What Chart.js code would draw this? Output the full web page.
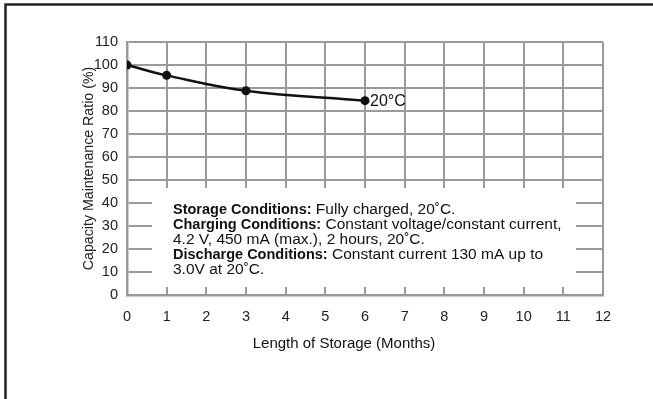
<!DOCTYPE html>
<html>
<head>
<meta charset="utf-8">
<script src="https://cdn.jsdelivr.net/npm/chart.js@4.4.1/dist/chart.umd.min.js"></script>
<style>
  html, body { margin: 0; padding: 0; background: #fff; }
  canvas { display: block; }
</style>
</head>
<body>
<canvas id="storageChart" width="653" height="399"></canvas>
<script>
// storage data
const months = [0, 1, 3, 6];
const capacity = [100, 95.5, 88.8, 84.5];
const seriesLabel = '20°C';

const xTicks = [0, 1, 2, 3, 4, 5, 6, 7, 8, 9, 10, 11, 12];
const yTicks = [0, 10, 20, 30, 40, 50, 60, 70, 80, 90, 100, 110];

const xTitle = 'Length of Storage (Months)';
const yTitle = 'Capacity Maintenance Ratio (%)';

// each line: [text, bold]
const notes = [
  [['Storage Conditions:', true], [' Fully charged, 20˚C.', false]],
  [['Charging Conditions:', true], [' Constant voltage/constant current,', false]],
  [['4.2 V, 450 mA (max.), 2 hours, 20˚C.', false]],
  [['Discharge Conditions:', true], [' Constant current 130 mA up to', false]],
  [['3.0V at 20˚C.', false]]
];

const FONT = "'Liberation Sans', Arial, sans-serif";
const gridGray = '#9a9a9a';

const decor = {
  id: 'decor',
  beforeDraw(chart) {
    const c = chart.ctx;
    c.save();
    c.fillStyle = '#fff';
    c.fillRect(0, 0, chart.width, chart.height);
    c.strokeStyle = '#222';
    c.lineWidth = 2.5;
    c.beginPath();
    c.moveTo(5.5, chart.height);
    c.lineTo(5.5, 4.5);
    c.lineTo(chart.width, 4.5);
    c.stroke();
    c.restore();
  },
  beforeDatasetsDraw(chart) {
    // blank panel for the notes, leaving only stubs of the grid
    const x = chart.scales.x, y = chart.scales.y;
    const l = x.getPixelForValue(0) + 25, r = x.getPixelForValue(12) - 27;
    const t = y.getPixelForValue(50) + 8, b = y.getPixelForValue(0) - 8;
    const c = chart.ctx;
    c.save();
    c.fillStyle = '#fff';
    c.fillRect(l, t, r - l, b - t);
    c.restore();
  },
  afterDatasetsDraw(chart) {
    const c = chart.ctx;
    const area = chart.chartArea;
    c.save();
    c.fillStyle = '#111';
    c.textBaseline = 'middle';

    // notes block
    let ty = area.top + 168;
    notes.forEach(line => {
      let tx = area.left + 46;
      line.forEach(([txt, bold]) => {
        c.font = bold ? 'bold 14.5px ' + FONT : '15.5px ' + FONT;
        c.fillText(txt, tx, ty);
        tx += c.measureText(txt).width;
      });
      ty += 15;
    });

    // series label beside last point
    const meta = chart.getDatasetMeta(0);
    const last = meta.data[meta.data.length - 1];
    c.font = '16px ' + FONT;
    c.fillText(seriesLabel, last.x + 5, last.y + 1);

    // x title
    c.font = '15px ' + FONT;
    c.textAlign = 'center';
    c.fillText(xTitle, area.left + 217, area.bottom + 49);
    c.restore();
  }
};

new Chart(document.getElementById('storageChart'), {
  type: 'line',
  data: {
    datasets: [{
      label: seriesLabel,
      data: months.map((m, i) => ({ x: m, y: capacity[i] })),
      borderColor: '#111',
      backgroundColor: '#111',
      borderWidth: 2.5,
      pointRadius: 4.5,
      pointBackgroundColor: '#111',
      pointBorderWidth: 0,
      tension: 0.4,
      fill: false
    }]
  },
  options: {
    responsive: false,
    animation: false,
    events: [],
    layout: { padding: { left: 75, top: 42, right: 50, bottom: 74 } },
    plugins: { legend: { display: false }, tooltip: { enabled: false } },
    scales: {
      x: {
        type: 'linear',
        min: 0,
        max: 12,
        afterBuildTicks: s => { s.ticks = xTicks.map(v => ({ value: v })); },
        afterFit: s => { s.height = 30; },
        grid: { color: gridGray, lineWidth: 2, drawTicks: false },
        border: { color: gridGray, width: 2.5 },
        ticks: { color: '#222', padding: 13, font: { family: FONT, size: 14.5 } }
      },
      y: {
        type: 'linear',
        min: 0,
        max: 110,
        afterBuildTicks: s => { s.ticks = yTicks.map(v => ({ value: v })); },
        afterFit: s => { s.width = 52; },
        grid: { color: gridGray, lineWidth: 2, drawTicks: false },
        border: { color: gridGray, width: 2.5 },
        ticks: { color: '#222', padding: 9, font: { family: FONT, size: 14.5 } },
        title: {
          display: true,
          text: yTitle,
          color: '#222',
          padding: { top: 6, bottom: 0 },
          font: { family: FONT, size: 14.2 }
        }
      }
    }
  },
  plugins: [decor]
});
</script>
</body>
</html>
